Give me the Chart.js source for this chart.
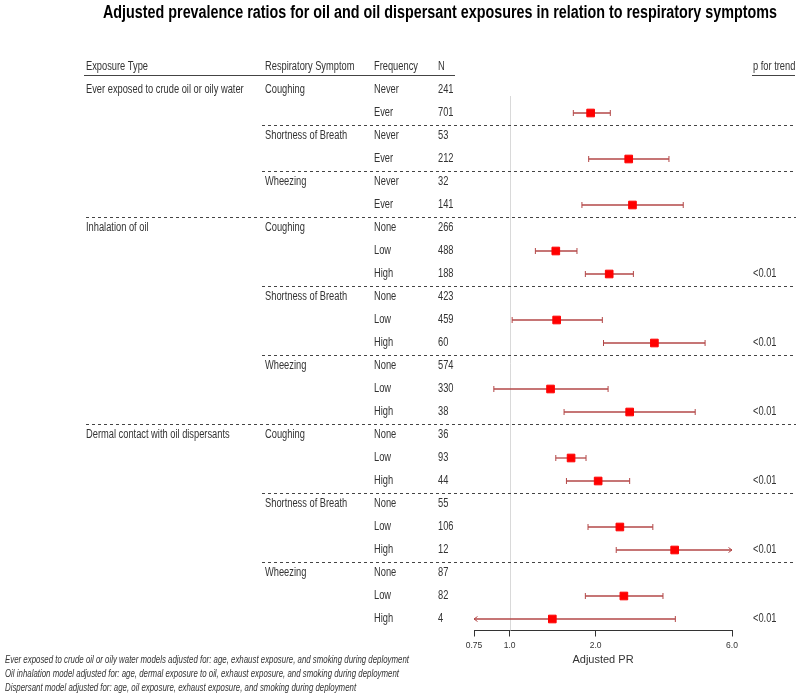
<!DOCTYPE html>
<html>
<head>
<meta charset="utf-8">
<script src="https://cdn.jsdelivr.net/npm/chart.js@4/dist/chart.umd.min.js"></script>
<style>
  html, body { margin: 0; padding: 0; background: #ffffff; }
  #wrap { width: 800px; height: 697px; }
</style>
</head>
<body>
<div id="wrap"><canvas id="c" width="800" height="697"></canvas></div>
<script>
// ---------------- data ----------------
const chartTitle = "Adjusted prevalence ratios for oil and oil dispersant exposures in relation to respiratory symptoms";
const headers = ["Exposure Type", "Respiratory Symptom", "Frequency", "N", "p for trend"];
const rowExposure = [
  "Ever exposed to crude oil or oily water", "", "", "", "", "",
  "Inhalation of oil", "", "", "", "", "", "", "", "",
  "Dermal contact with oil dispersants", "", "", "", "", "", "", "", ""
];
const rowSymptom = [
  "Coughing", "", "Shortness of Breath", "", "Wheezing", "",
  "Coughing", "", "", "Shortness of Breath", "", "", "Wheezing", "", "",
  "Coughing", "", "", "Shortness of Breath", "", "", "Wheezing", "", ""
];
const rowFrequency = [
  "Never", "Ever", "Never", "Ever", "Never", "Ever",
  "None", "Low", "High", "None", "Low", "High", "None", "Low", "High",
  "None", "Low", "High", "None", "Low", "High", "None", "Low", "High"
];
const rowN = [241, 701, 53, 212, 32, 141, 266, 488, 188, 423, 459, 60, 574, 330, 38, 36, 93, 44, 55, 106, 12, 87, 82, 4];
const prEstimate = [null, 1.92, null, 2.61, null, 2.69,
  null, 1.45, 2.23, null, 1.46, 3.21, null, 1.39, 2.63,
  null, 1.64, 2.04, null, 2.43, 3.78, null, 2.51, 1.41];
const ciLower = [null, 1.67, null, 1.89, null, 1.79,
  null, 1.23, 1.84, null, 1.02, 2.13, null, 0.88, 1.55,
  null, 1.45, 1.58, null, 1.88, 2.36, null, 1.84, 0.70];
const ciUpper = [null, 2.25, null, 3.61, null, 4.05,
  null, 1.72, 2.71, null, 2.11, 4.83, null, 2.21, 4.46,
  null, 1.85, 2.63, null, 3.17, 6.50, null, 3.44, 3.80];
const pTrend = ["", "", "", "", "", "",
  "", "", "<0.01", "", "", "<0.01", "", "", "<0.01",
  "", "", "<0.01", "", "", "<0.01", "", "", "<0.01"];
const tickValues = [0.75, 1.0, 2.0, 6.0];
const tickLabels = ["0.75", "1.0", "2.0", "6.0"];
const xAxisTitle = "Adjusted PR";
const groupBreaks = [5, 14];            // full separators after these rows
const symptomBreaks = [1, 3, 8, 11, 17, 20]; // partial separators after these rows
const footnotes = [
  "Ever exposed to crude oil or oily water models adjusted for: age, exhaust exposure, and smoking during deployment",
  "Oil inhalation model adjusted for: age, dermal exposure to oil, exhaust exposure, and smoking during deployment",
  "Dispersant model adjusted for: age, oil exposure, exhaust exposure, and smoking during deployment"
];

// ---------------- styling helpers ----------------
const X_MIN = tickValues[0], X_MAX = tickValues[tickValues.length - 1];
const CI_COLOR = "#b34747";
const TXT = "#333333";
const FONT = "'Liberation Sans', Arial, sans-serif";

function arrowImage(dir) {
  const cv = document.createElement("canvas");
  cv.width = 12; cv.height = 8;
  const g = cv.getContext("2d");
  g.strokeStyle = CI_COLOR; g.lineWidth = 1;
  g.beginPath();
  if (dir === "left") { g.moveTo(9.5, 1.5); g.lineTo(6, 4); g.lineTo(9.5, 6.5); }
  else { g.moveTo(2.5, 1.5); g.lineTo(6, 4); g.lineTo(2.5, 6.5); }
  g.stroke();
  return cv;
}
const arrowLeft = arrowImage("left");
const arrowRight = arrowImage("right");

const datasets = [];
// point estimates (drawn on top)
datasets.push({
  label: "PR",
  data: prEstimate.map((v, i) => v == null ? null : { x: v, y: i }).filter(d => d),
  pointStyle: "rect",
  pointRadius: 5.4,
  pointBorderWidth: 1,
  backgroundColor: "#ff0000",
  borderColor: "#ff0000",
  showLine: false
});
// confidence intervals
prEstimate.forEach((v, i) => {
  if (v == null) return;
  const lo = Math.max(ciLower[i], X_MIN), hi = Math.min(ciUpper[i], X_MAX);
  const loArrow = ciLower[i] < X_MIN, hiArrow = ciUpper[i] > X_MAX;
  datasets.push({
    label: "CI " + i,
    data: [{ x: lo, y: i }, { x: hi, y: i }],
    showLine: true,
    borderColor: CI_COLOR,
    borderWidth: 1.3,
    pointStyle: [loArrow ? arrowLeft : "line", hiArrow ? arrowRight : "line"],
    pointRotation: [loArrow ? 0 : 90, hiArrow ? 0 : 90],
    pointRadius: 3,
    pointBorderWidth: 1,
    pointBorderColor: CI_COLOR,
    pointBackgroundColor: CI_COLOR,
    clip: false
  });
});

function drawText(ctx, s, x, y, sx, align) {
  ctx.save();
  ctx.translate(x, y);
  ctx.scale(sx, 1);
  ctx.textAlign = align || "left";
  ctx.fillText(s, 0, 0);
  ctx.restore();
}

const tablePlugin = {
  id: "tablePlugin",
  beforeDatasetsDraw(chart) {
    const ctx = chart.ctx, xs = chart.scales.x, area = chart.chartArea;
    const x1 = Math.round(xs.getPixelForValue(1)) + 0.5;
    ctx.save();
    ctx.strokeStyle = "#d9d9d9"; ctx.lineWidth = 1;
    ctx.beginPath(); ctx.moveTo(x1, 96); ctx.lineTo(x1, area.bottom); ctx.stroke();
    ctx.restore();
  },
  afterDraw(chart) {
    const ctx = chart.ctx, ys = chart.scales.y;
    ctx.save();
    // title
    ctx.fillStyle = "#000000";
    ctx.font = "bold 17.5px " + FONT;
    ctx.textBaseline = "alphabetic";
    const tw = ctx.measureText(chartTitle).width;
    drawText(ctx, chartTitle, 440, 17.5, 674 / tw, "center");

    // header
    ctx.fillStyle = TXT;
    ctx.font = "12px " + FONT;
    ctx.textBaseline = "middle";
    const SX = 0.775;
    const colX = [86, 265, 374, 438, 753];
    headers.forEach((h, i) => drawText(ctx, h, colX[i], 67, SX));
    ctx.strokeStyle = "#444444"; ctx.lineWidth = 1;
    ctx.beginPath();
    ctx.moveTo(84, 75.5); ctx.lineTo(455, 75.5);
    ctx.moveTo(752, 75.5); ctx.lineTo(795, 75.5);
    ctx.stroke();

    // rows
    for (let r = 0; r < rowFrequency.length; r++) {
      const y = ys.getPixelForValue(r);
      if (rowExposure[r]) drawText(ctx, rowExposure[r], colX[0], y, SX);
      if (rowSymptom[r]) drawText(ctx, rowSymptom[r], colX[1], y, SX);
      drawText(ctx, rowFrequency[r], colX[2], y, SX);
      drawText(ctx, String(rowN[r]), colX[3], y, SX);
      if (pTrend[r]) drawText(ctx, pTrend[r], colX[4], y, SX);
    }

    // separators
    ctx.strokeStyle = "#444444"; ctx.lineWidth = 1;
    ctx.setLineDash([3, 3]);
    const sep = (r, x0) => {
      const y = Math.round(ys.getPixelForValue(r + 0.5)) + 0.5;
      ctx.beginPath(); ctx.moveTo(x0, y); ctx.lineTo(796, y); ctx.stroke();
    };
    groupBreaks.forEach(r => sep(r, 86));
    symptomBreaks.forEach(r => sep(r, 262));
    ctx.setLineDash([]);

    // footnotes
    ctx.font = "italic 11px " + FONT;
    ctx.fillStyle = TXT;
    const fw = ctx.measureText(footnotes[0]).width;
    const fsx = 404 / fw;
    footnotes.forEach((f, i) => drawText(ctx, f, 5, 660 + i * 14, fsx));
    ctx.restore();
  }
};

new Chart(document.getElementById("c"), {
  type: "scatter",
  data: { datasets },
  options: {
    responsive: false,
    animation: false,
    devicePixelRatio: 1,
    layout: { padding: { left: 474, right: 68, top: 78.5, bottom: 30.5 } },
    plugins: { legend: { display: false }, tooltip: { enabled: false } },
    scales: {
      x: {
        type: "logarithmic",
        min: X_MIN, max: X_MAX,
        afterBuildTicks: s => { s.ticks = tickValues.map(v => ({ value: v })); },
        afterFit: s => { s.height = 36; },
        ticks: {
          autoSkip: false, maxRotation: 0, padding: 4,
          color: TXT, font: { family: FONT, size: 8.5 },
          callback: (v, i) => tickLabels[i]
        },
        grid: { drawOnChartArea: false, drawTicks: true, tickLength: 6, color: "#333333", tickColor: "#333333" },
        border: { display: true, color: "#333333", width: 1 },
        title: { display: true, text: xAxisTitle, color: TXT, font: { family: FONT, size: 11 }, padding: { top: 0, bottom: 0 } }
      },
      y: {
        type: "linear", display: false, reverse: true,
        min: -0.5, max: rowFrequency.length - 0.5
      }
    }
  },
  plugins: [tablePlugin]
});
</script>
</body>
</html>
